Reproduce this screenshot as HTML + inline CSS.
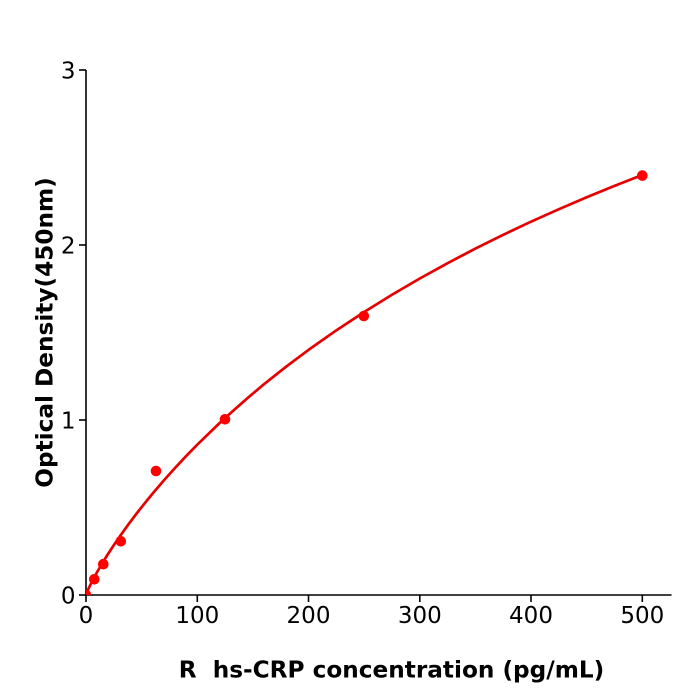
<!DOCTYPE html>
<html>
<head>
<meta charset="utf-8">
<style>
html,body{margin:0;padding:0;background:#fff;}
svg{display:block;}
text{font-family:"DejaVu Sans","Liberation Sans",sans-serif;fill:#000;}
</style>
</head>
<body>
<svg width="700" height="700" viewBox="0 0 700 700" xmlns="http://www.w3.org/2000/svg">
<rect width="700" height="700" fill="#fff"/>
<defs>
<clipPath id="pa"><rect x="86" y="40" width="590" height="555"/></clipPath>
</defs>
<line x1="86" y1="70" x2="86" y2="596" stroke="#000" stroke-width="1.6"/>
<line x1="85.2" y1="595" x2="671.5" y2="595" stroke="#000" stroke-width="1.6"/>
<g stroke="#000" stroke-width="1.6">
<line x1="79" y1="595" x2="86" y2="595"/>
<line x1="79" y1="420" x2="86" y2="420"/>
<line x1="79" y1="245" x2="86" y2="245"/>
<line x1="79" y1="70" x2="86" y2="70"/>
<line x1="86" y1="595" x2="86" y2="602"/>
<line x1="197.3" y1="595" x2="197.3" y2="602"/>
<line x1="308.5" y1="595" x2="308.5" y2="602"/>
<line x1="419.8" y1="595" x2="419.8" y2="602"/>
<line x1="531" y1="595" x2="531" y2="602"/>
<line x1="642.3" y1="595" x2="642.3" y2="602"/>
</g>
<g font-size="23" text-anchor="end">
<text x="75.5" y="603.5">0</text>
<text x="75.5" y="428.5">1</text>
<text x="75.5" y="253.5">2</text>
<text x="75.5" y="78.5">3</text>
</g>
<g font-size="23" text-anchor="middle">
<text x="86" y="623">0</text>
<text x="197.3" y="623">100</text>
<text x="308.5" y="623">200</text>
<text x="419.8" y="623">300</text>
<text x="531" y="623">400</text>
<text x="642.3" y="623">500</text>
</g>
<text x="391.5" y="677.5" font-size="23.2" font-weight="bold" text-anchor="middle" xml:space="preserve" style="white-space:pre">R  hs-CRP concentration (pg/mL)</text>
<text transform="translate(52.5,332.5) rotate(-90)" x="0" y="0" font-size="23.2" font-weight="bold" text-anchor="middle">Optical Density(450nm)</text>
<g clip-path="url(#pa)">
<polyline fill="none" stroke="#e60000" stroke-width="2.7" stroke-linejoin="round" stroke-linecap="round" points="86,595 87.11,591.9 88.23,589.3 91.56,582.35 97.13,572.0 102.69,562.5 108.25,553.6 113.82,545.1 119.38,536.97 128.28,524.55 136.07,514.2 143.86,504.3 152.76,493.4 163.88,480.4 175.0,468.0 186.13,456.1 197.26,444.7 219.51,423.1 230.64,412.95 247.33,398.25 264.0,384.2 286.27,366.56 308.5,349.9 336.34,330.33 364.15,312.0 391.97,294.74 419.8,278.5 447.6,263.15 475.4,248.6 503.2,234.8 531.0,221.7 558.9,209.2 586.7,197.3 614.5,185.9 642.3,175.0"/>
<g fill="#f00">
<circle cx="86" cy="595" r="5.3"/>
<circle cx="94.3" cy="579.3" r="5.3"/>
<circle cx="103.3" cy="564.2" r="5.3"/>
<circle cx="120.8" cy="541.3" r="5.3"/>
<circle cx="156" cy="471" r="5.3"/>
<circle cx="225" cy="419.3" r="5.3"/>
<circle cx="363.8" cy="316" r="5.3"/>
<circle cx="642.3" cy="175.6" r="5.3"/>
</g>
</g>
</svg>
</body>
</html>
